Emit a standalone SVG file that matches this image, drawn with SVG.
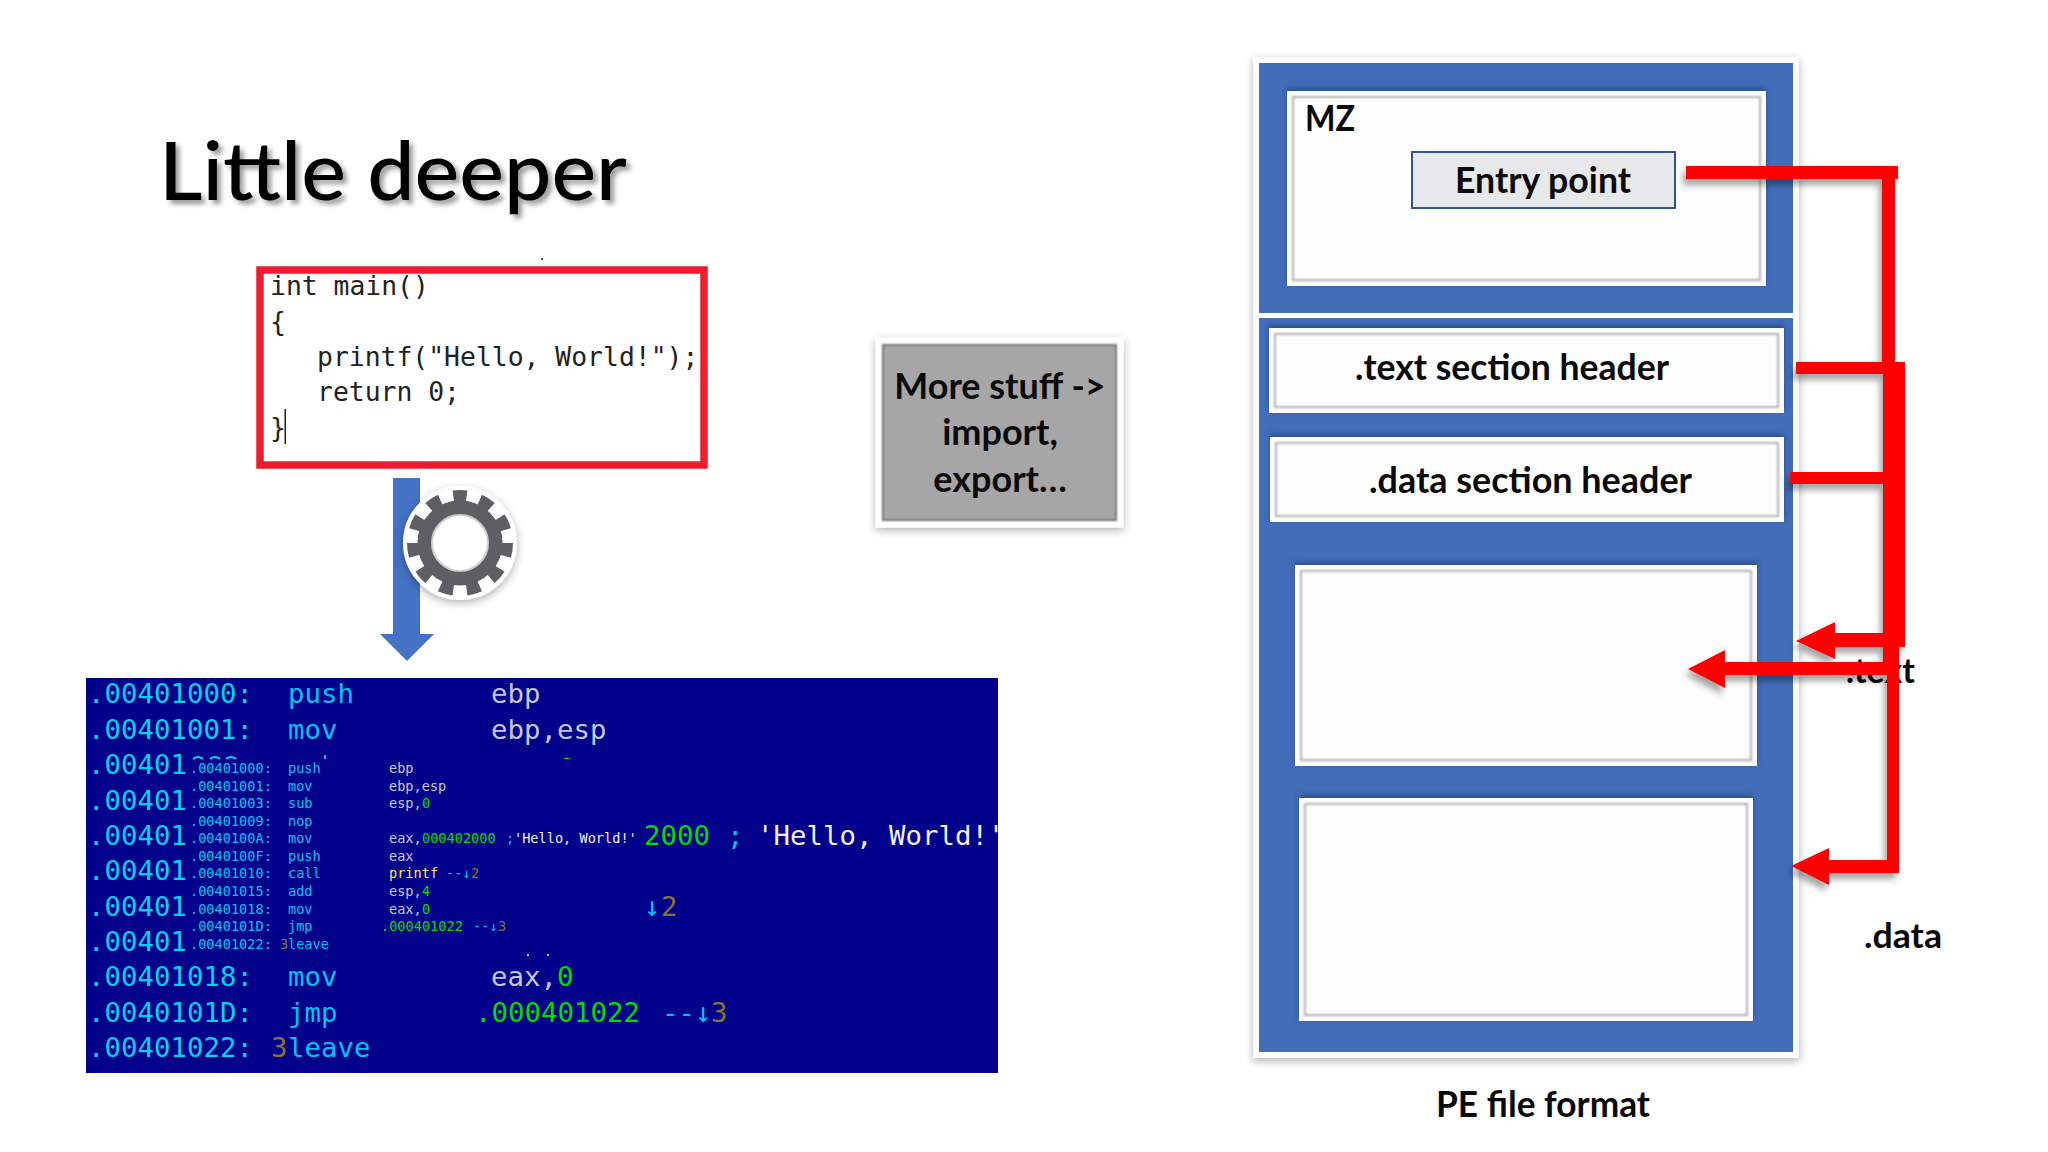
<svg xmlns="http://www.w3.org/2000/svg" width="2048" height="1152" viewBox="0 0 2048 1152">
<style>
.ui{font-family:"Lato","Open Sans","Liberation Sans",sans-serif;font-weight:700;fill:#0a0a0a}
.m{font-family:"DejaVu Sans Mono","Liberation Mono",monospace}
.big{font-size:27.4px}
.sm{font-size:13.6px}
.a{fill:#00d4f4}
.b{fill:#00c4f4}
.r{fill:#c4c8dc}
.g{fill:#00dc00}
.y{fill:#ffe860}
.n{fill:#8a7236}
.w{fill:#f0f0f8}
.code{font-size:26.4px;fill:#222}
.frame{fill:#fff;filter:url(#bev)}
.inner{fill:#fdfdfd;stroke:#aaa;stroke-width:2;filter:url(#soft)}
.red{fill:#f00}
</style>
<defs>
<filter id="titleS" x="-5%" y="-20%" width="110%" height="140%"><feDropShadow dx="4" dy="4" stdDeviation="2.5" flood-color="#000" flood-opacity=".4"/></filter>
<filter id="shadow" x="-20%" y="-20%" width="140%" height="140%"><feDropShadow dx="0" dy="3" stdDeviation="4" flood-color="#000" flood-opacity=".3"/></filter>
<filter id="bev" x="-10%" y="-10%" width="120%" height="120%"><feDropShadow dx="0" dy="-3" stdDeviation="2.5" flood-color="#27467f" flood-opacity=".8"/></filter>
<filter id="soft" x="-5%" y="-5%" width="110%" height="110%"><feGaussianBlur stdDeviation="1"/></filter>
<filter id="redS" x="-10%" y="-10%" width="125%" height="125%"><feDropShadow dx="-3" dy="6" stdDeviation="3" flood-color="#000" flood-opacity=".35"/></filter>
</defs>
<rect width="2048" height="1152" fill="#fff"/>

<g id="title"><text class="ui" x="159" y="200" font-size="81" textLength="468" lengthAdjust="spacingAndGlyphs" style="font-weight:500;fill:#000" filter="url(#titleS)">Little deeper</text></g>

<g id="source-code">
<rect x="260" y="270" width="444" height="195" fill="#fff" stroke="#ed1c2e" stroke-width="7.5"/>
<text class="m code" x="270" y="295">int main()</text>
<text class="m code" x="270" y="331">{</text>
<text class="m code" x="317" y="366">printf("Hello, World!");</text>
<text class="m code" x="317" y="401">return 0;</text>
<text class="m code" x="270" y="437">}</text>
<rect x="284.500" y="409" width="1.500" height="35" fill="#222"/>
<rect x="541" y="258" width="2" height="2" fill="#555"/>
</g>

<g id="compile-arrow"><polygon points="393,478 420,478 420,634 434,634 407,661 380,634 393,634" fill="#4472c4"/></g>

<g id="gear">
<circle cx="460" cy="543" r="47" fill="none" stroke="#fff" stroke-width="20" filter="url(#shadow)"/>
<circle cx="460" cy="543" r="47" fill="none" stroke="#5f5f63" stroke-width="12" pathLength="110" stroke-dasharray="5 5"/>
<circle cx="460" cy="543" r="35" fill="#fff" stroke="#5f5f63" stroke-width="15"/>
<circle cx="460" cy="543" r="28" fill="none" stroke="#d0d0d0" stroke-width="2"/>
</g>

<g id="disassembly">
<rect x="86" y="678" width="912" height="395" fill="#00008a"/>
<g class="m big">
<text class="a" x="88" y="703">.00401000:</text><text class="b" x="288" y="703">push</text><text class="r" x="491" y="703">ebp</text>
<text class="a" x="88" y="738.500">.00401001:</text><text class="b" x="288" y="738.500">mov</text><text class="r" x="491" y="738.500">ebp,esp</text>
<text class="a" x="88" y="774">.00401</text>
<text class="a" x="88" y="810">.00401</text>
<text class="a" x="88" y="845">.00401</text>
<text class="a" x="88" y="880">.00401</text>
<text class="a" x="88" y="916">.00401</text>
<text class="a" x="88" y="951">.00401</text>
<text class="g" x="644" y="845">2000</text><text class="b" x="727" y="845">;</text><text class="w" x="757" y="845">'Hello, World!'</text>
<text class="b" x="644" y="916">↓</text><text class="n" x="661" y="916">2</text>
<text class="a" x="88" y="986">.00401018:</text><text class="b" x="288" y="986">mov</text><text class="r" x="491" y="986">eax,</text><text class="g" x="557" y="986">0</text>
<text class="a" x="88" y="1022">.0040101D:</text><text class="b" x="288" y="1022">jmp</text><text class="g" x="475" y="1022">.000401022</text><text class="b" x="662" y="1022">--↓</text><text class="n" x="711" y="1022">3</text>
<text class="a" x="88" y="1057">.00401022:</text><text class="n" x="271" y="1057">3</text><text class="b" x="288" y="1057">leave</text>
</g>
<path d="M193 759q5-4 10 0M210 759q5-4 10 0M226 759q5-4 10 0" fill="none" stroke="#00d4f4" stroke-width="2"/>
<rect x="324" y="755" width="2" height="4" fill="#00c4f4"/>
<path d="M563 759q4-3 8 0z" fill="#00dc00"/>
<rect x="527" y="954" width="2" height="2" fill="#c4c8dc"/><rect x="547" y="954" width="2" height="2" fill="#c4c8dc"/>
<g class="m sm">
<text class="b" x="190" y="773">.00401000:</text><text class="b" x="288" y="773">push</text><text class="r" x="389" y="773">ebp</text>
<text class="b" x="190" y="790.500">.00401001:</text><text class="b" x="288" y="790.500">mov</text><text class="r" x="389" y="790.500">ebp,esp</text>
<text class="b" x="190" y="808">.00401003:</text><text class="b" x="288" y="808">sub</text><text class="r" x="389" y="808">esp,</text><text class="g" x="422" y="808">0</text>
<text class="b" x="190" y="825.500">.00401009:</text><text class="b" x="288" y="825.500">nop</text>
<text class="b" x="190" y="843">.0040100A:</text><text class="b" x="288" y="843">mov</text><text class="r" x="389" y="843">eax,</text><text class="g" x="422" y="843">000402000</text><text class="b" x="506" y="843">;</text><text class="w" x="514" y="843">'Hello, World!'</text>
<text class="b" x="190" y="861">.0040100F:</text><text class="b" x="288" y="861">push</text><text class="r" x="389" y="861">eax</text>
<text class="b" x="190" y="878">.00401010:</text><text class="b" x="288" y="878">call</text><text class="y" x="389" y="878">printf</text><text class="b" x="446" y="878">--↓</text><text class="n" x="471" y="878">2</text>
<text class="b" x="190" y="896">.00401015:</text><text class="b" x="288" y="896">add</text><text class="r" x="389" y="896">esp,</text><text class="g" x="422" y="896">4</text>
<text class="b" x="190" y="914">.00401018:</text><text class="b" x="288" y="914">mov</text><text class="r" x="389" y="914">eax,</text><text class="g" x="422" y="914">0</text>
<text class="b" x="190" y="931">.0040101D:</text><text class="b" x="288" y="931">jmp</text><text class="g" x="381" y="931">.000401022</text><text class="b" x="473" y="931">--↓</text><text class="n" x="498" y="931">3</text>
<text class="b" x="190" y="949">.00401022:</text><text class="n" x="280" y="949">3</text><text class="b" x="288" y="949">leave</text>
</g>
</g>

<g id="more-stuff">
<rect x="879" y="341" width="241" height="183" fill="#a6a6a6" stroke="#fff" stroke-width="7" filter="url(#shadow)"/>
<rect x="883" y="345" width="233" height="175" fill="none" stroke="#808080" stroke-width="2" filter="url(#soft)"/>
<g class="ui" font-size="36" text-anchor="middle">
<text x="1000" y="399">More stuff -&gt;</text>
<text x="1000" y="445">import,</text>
<text x="1000" y="492">export…</text>
</g>
</g>

<g id="pe-file">
<rect x="1256" y="60" width="540" height="995" fill="#fff" stroke="#fff" stroke-width="6" filter="url(#shadow)"/>
<rect x="1259" y="63" width="534" height="250" fill="#416db9"/>
<rect x="1259" y="318" width="534" height="734" fill="#416db9"/>
</g>

<g id="mz-header">
<rect class="frame" x="1287" y="91" width="479" height="195"/>
<rect class="inner" x="1293" y="97" width="467" height="183"/>
<text class="ui" x="1305" y="131" font-size="36" textLength="50" lengthAdjust="spacingAndGlyphs">MZ</text>
</g>
<g id="entry-point">
<rect x="1412" y="152" width="263" height="56" fill="#e7e8ea" stroke="#2f5597" stroke-width="2"/>
<text class="ui" x="1455" y="193" font-size="36" textLength="176" lengthAdjust="spacingAndGlyphs">Entry point</text>
</g>
<g id="text-header">
<rect class="frame" x="1269" y="328" width="515" height="85"/>
<rect class="inner" x="1275" y="334" width="503" height="73"/>
<text class="ui" x="1355" y="380" font-size="36" textLength="314" lengthAdjust="spacingAndGlyphs">.text section header</text>
</g>
<g id="data-header">
<rect class="frame" x="1270" y="437" width="514" height="85"/>
<rect class="inner" x="1276" y="443" width="502" height="73"/>
<text class="ui" x="1369" y="493" font-size="36" textLength="323" lengthAdjust="spacingAndGlyphs">.data section header</text>
</g>
<g id="text-section">
<rect class="frame" x="1295" y="565" width="462" height="201"/>
<rect class="inner" x="1301" y="571" width="450" height="189"/>
</g>
<g id="data-section">
<rect class="frame" x="1299" y="798" width="454" height="223"/>
<rect class="inner" x="1305" y="804" width="442" height="211"/>
</g>
<g id="labels">
<text class="ui" x="1846" y="683" font-size="34">.text</text>
<text class="ui" x="1864" y="948" font-size="34" textLength="78" lengthAdjust="spacingAndGlyphs">.data</text>
<text class="ui" x="1436" y="1117" font-size="36" textLength="214" lengthAdjust="spacingAndGlyphs">PE file format</text>
</g>

<g id="connectors" class="red" filter="url(#redS)">
<polygon points="1686,166 1898,166 1898,179 1895,179 1895,362 1905,362 1905,647 1899,647 1899,873 1829,873 1829,885 1791,866 1829,848 1829,860 1887,860 1887,675 1725,675 1725,688 1688,669 1725,650 1725,662 1883,662 1883,647 1835,647 1835,659 1796,641 1835,622 1835,633 1883,633 1883,484 1790,484 1790,472 1883,472 1883,374 1796,374 1796,362 1882,362 1882,179 1686,179"/>
</g>
</svg>
